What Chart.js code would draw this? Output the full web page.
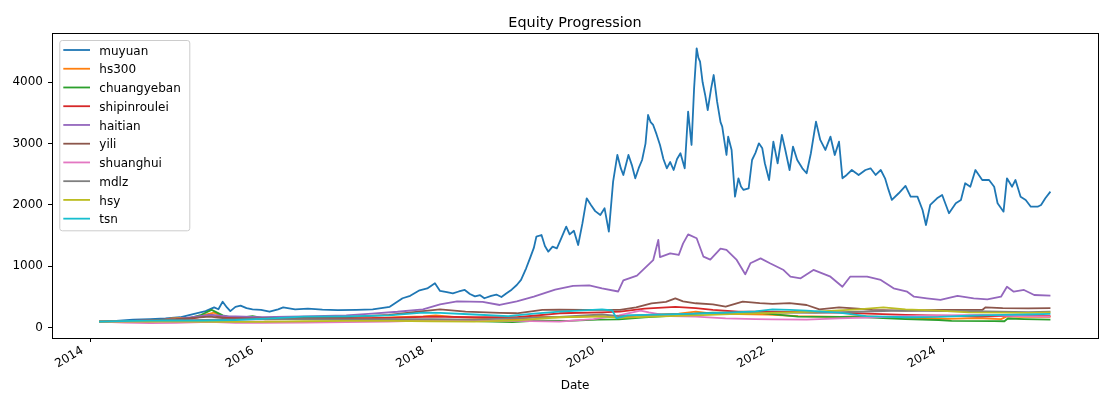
<!DOCTYPE html>
<html>
<head>
<meta charset="utf-8">
<script src="https://cdn.jsdelivr.net/npm/chart.js@4.4.1/dist/chart.umd.min.js"></script>
<style>
html,body{margin:0;padding:0;background:#fff;}
canvas{display:block;}
</style>
</head>
<body>
<canvas id="c" width="1112" height="397"></canvas>
<script>
// ---- data (x = decimal year, y = equity value) ----
const seriesNames = ['muyuan','hs300','chuangyeban','shipinroulei','haitian','yili','shuanghui','mdlz','hsy','tsn'];
const seriesColors = ['#1f77b4','#ff7f0e','#2ca02c','#d62728','#9467bd','#8c564b','#e377c2','#7f7f7f','#bcbd22','#17becf'];
const xTickYears = [2014, 2016, 2018, 2020, 2022, 2024];
const yTickValues = [0, 1000, 2000, 3000, 4000];
const chartTitle = 'Equity Progression';
const xAxisTitle = 'Date';

const muyuan = [
 [2014.10,100],[2014.30,110],[2014.50,130],[2014.70,140],[2014.88,150],[2015.05,170],[2015.24,235],[2015.35,270],
 [2015.45,330],[2015.50,300],[2015.55,424],[2015.60,330],[2015.64,270],[2015.70,340],[2015.76,360],[2015.83,320],
 [2015.90,300],[2016.00,290],[2016.10,260],[2016.20,300],[2016.26,330],[2016.40,300],[2016.55,310],[2016.72,295],
 [2016.90,285],[2017.12,290],[2017.31,300],[2017.51,340],[2017.66,480],[2017.75,520],[2017.86,610],[2017.95,640],
 [2018.04,724],[2018.10,600],[2018.18,580],[2018.25,560],[2018.32,590],[2018.39,615],[2018.45,550],[2018.51,510],
 [2018.57,530],[2018.62,480],[2018.70,520],[2018.76,540],[2018.82,500],[2018.88,560],[2018.94,620],[2019.00,696],
 [2019.05,780],[2019.11,968],[2019.16,1150],[2019.20,1300],[2019.23,1484],[2019.29,1511],[2019.33,1330],[2019.37,1239],
 [2019.42,1320],[2019.47,1294],[2019.52,1450],[2019.58,1646],[2019.62,1520],[2019.67,1580],[2019.72,1348],[2019.77,1700],
 [2019.82,2109],[2019.87,2000],[2019.92,1900],[2019.98,1837],[2020.03,1946],[2020.08,1565],[2020.13,2380],[2020.18,2815],
 [2020.22,2600],[2020.25,2489],[2020.31,2815],[2020.35,2650],[2020.39,2435],[2020.43,2600],[2020.47,2733],[2020.51,3000],
 [2020.54,3467],[2020.57,3350],[2020.60,3304],[2020.64,3150],[2020.68,2978],[2020.72,2750],[2020.76,2598],[2020.80,2700],
 [2020.84,2570],[2020.88,2750],[2020.92,2843],[2020.97,2598],[2021.01,3521],[2021.05,2978],[2021.08,3900],[2021.11,4554],
 [2021.13,4400],[2021.15,4336],[2021.18,4000],[2021.21,3793],[2021.24,3548],[2021.28,3900],[2021.31,4118],[2021.35,3684],
 [2021.39,3350],[2021.41,3276],[2021.44,3000],[2021.46,2815],[2021.48,3113],[2021.52,2897],[2021.56,2135],[2021.60,2435],
 [2021.63,2300],[2021.66,2245],[2021.72,2272],[2021.76,2733],[2021.80,2850],[2021.84,3005],[2021.88,2924],[2021.91,2680],
 [2021.96,2407],[2022.01,3032],[2022.06,2680],[2022.11,3141],[2022.15,2897],[2022.20,2570],[2022.24,2951],[2022.29,2733],
 [2022.35,2598],[2022.40,2517],[2022.45,2843],[2022.51,3358],[2022.56,3060],[2022.62,2897],[2022.68,3113],[2022.73,2815],
 [2022.78,3032],[2022.82,2435],[2022.87,2489],[2022.93,2570],[2023.01,2489],[2023.09,2570],[2023.15,2598],[2023.21,2489],
 [2023.27,2570],[2023.32,2435],[2023.36,2250],[2023.40,2082],[2023.48,2191],[2023.56,2310],[2023.62,2135],[2023.70,2135],
 [2023.76,1918],[2023.80,1674],[2023.85,2000],[2023.93,2109],[2023.99,2163],[2024.07,1865],[2024.15,2028],[2024.21,2082],
 [2024.26,2354],[2024.32,2298],[2024.38,2570],[2024.46,2407],[2024.54,2407],[2024.60,2298],[2024.64,2028],[2024.71,1891],
 [2024.75,2435],[2024.81,2298],[2024.85,2407],[2024.91,2135],[2024.97,2082],[2025.03,1972],[2025.11,1972],[2025.15,2000],
 [2025.20,2109],[2025.26,2217]
];
const hs300 = [
 [2014.10,100],[2014.40,98],[2014.60,100],[2014.80,110],[2014.95,150],[2015.20,165],[2015.40,230],[2015.45,245],
 [2015.55,180],[2015.70,150],[2015.90,165],[2016.05,135],[2016.30,140],[2016.60,148],[2016.90,150],[2017.30,155],
 [2017.60,170],[2017.90,185],[2018.05,200],[2018.30,172],[2018.60,155],[2018.90,140],[2019.00,137],[2019.25,180],
 [2019.45,170],[2019.70,175],[2019.95,188],[2020.20,170],[2020.50,205],[2020.90,230],[2021.10,262],[2021.30,230],
 [2021.60,220],[2021.95,215],[2022.30,190],[2022.80,175],[2023.05,190],[2023.50,160],[2023.80,155],[2024.05,145],
 [2024.40,155],[2024.68,140],[2024.75,185],[2024.90,178],[2025.26,178]
];
const chuangyeban = [
 [2014.10,100],[2014.30,95],[2014.60,100],[2014.90,110],[2015.10,130],[2015.30,210],[2015.42,290],[2015.55,200],
 [2015.70,150],[2015.90,190],[2016.05,150],[2016.40,150],[2016.80,145],[2017.20,135],[2017.60,125],[2017.95,125],
 [2018.30,120],[2018.60,105],[2018.95,90],[2019.25,115],[2019.60,110],[2019.95,130],[2020.20,137],[2020.50,170],
 [2020.90,200],[2021.10,230],[2021.30,246],[2021.55,245],[2021.85,240],[2022.30,180],[2022.80,175],[2023.10,170],
 [2023.56,140],[2023.95,125],[2024.10,112],[2024.60,108],[2024.72,105],[2024.76,150],[2024.95,140],[2025.26,130]
];
const shipinroulei = [
 [2014.10,100],[2014.50,95],[2014.90,110],[2015.20,150],[2015.42,210],[2015.55,170],[2015.80,160],[2016.10,140],
 [2016.50,150],[2017.00,150],[2017.50,160],[2018.00,180],[2018.50,170],[2019.00,170],[2019.50,235],[2020.00,250],
 [2020.21,262],[2020.50,310],[2020.86,338],[2021.10,320],[2021.30,289],[2021.60,262],[2022.00,262],[2022.40,255],
 [2022.78,246],[2023.20,225],[2023.56,208],[2024.00,195],[2024.46,180],[2024.75,195],[2025.26,190]
];
const haitian = [
 [2014.10,100],[2014.50,110],[2015.00,140],[2015.40,210],[2015.60,190],[2016.00,170],[2016.50,185],[2017.00,200],
 [2017.30,230],[2017.60,260],[2017.90,300],[2018.10,380],[2018.30,430],[2018.60,420],[2018.80,370],[2019.00,430],
 [2019.20,505],[2019.45,620],[2019.66,680],[2019.85,690],[2020.00,642],[2020.19,590],[2020.25,770],[2020.41,850],
 [2020.60,1100],[2020.66,1430],[2020.68,1150],[2020.80,1210],[2020.90,1185],[2020.95,1370],[2021.01,1520],[2021.11,1457],
 [2021.19,1157],[2021.27,1110],[2021.39,1290],[2021.46,1267],[2021.58,1104],[2021.68,870],[2021.74,1050],[2021.86,1130],
 [2021.97,1050],[2022.13,940],[2022.21,831],[2022.33,805],[2022.48,941],[2022.68,831],[2022.82,668],[2022.91,831],
 [2023.11,831],[2023.27,778],[2023.42,642],[2023.58,587],[2023.66,505],[2023.81,479],[2023.97,452],[2024.17,517],
 [2024.36,479],[2024.52,462],[2024.68,505],[2024.75,668],[2024.83,587],[2024.95,615],[2025.07,533],[2025.26,522]
];
const yili = [
 [2014.10,100],[2014.50,110],[2015.00,140],[2015.40,180],[2015.60,150],[2016.00,150],[2016.50,160],[2017.00,170],
 [2017.50,210],[2017.90,270],[2018.10,300],[2018.40,261],[2018.80,240],[2019.00,235],[2019.30,290],[2019.50,295],
 [2019.80,290],[2020.21,289],[2020.40,330],[2020.58,398],[2020.75,420],[2020.86,479],[2020.95,430],[2021.10,398],
 [2021.30,380],[2021.45,344],[2021.65,425],[2021.85,400],[2022.00,387],[2022.20,400],[2022.40,370],[2022.55,300],
 [2022.78,332],[2023.00,310],[2023.17,289],[2023.56,278],[2023.95,289],[2024.30,290],[2024.46,289],[2024.50,332],
 [2024.70,320],[2025.00,316],[2025.26,318]
];
const shuanghui = [
 [2014.10,100],[2014.40,85],[2014.70,75],[2015.00,80],[2015.40,95],[2015.70,80],[2016.00,80],[2016.50,85],
 [2017.00,90],[2017.50,100],[2018.00,120],[2018.50,110],[2019.00,110],[2019.50,99],[2019.90,140],[2020.20,200],
 [2020.45,280],[2020.55,250],[2020.80,190],[2021.10,180],[2021.45,153],[2021.80,140],[2022.00,137],[2022.40,130],
 [2022.78,153],[2023.20,170],[2023.56,190],[2024.00,200],[2024.46,208],[2024.75,195],[2025.26,180]
];
const mdlz = [
 [2014.10,100],[2014.50,110],[2015.00,120],[2015.50,130],[2016.00,135],[2016.50,140],[2017.00,135],[2017.50,140],
 [2018.00,140],[2018.50,130],[2019.00,155],[2019.50,175],[2020.00,215],[2020.20,190],[2020.50,210],[2021.00,225],
 [2021.50,240],[2022.00,246],[2022.50,240],[2023.00,260],[2023.50,278],[2024.00,270],[2024.50,265],[2025.00,255],
 [2025.26,262]
];
const hsy = [
 [2014.10,100],[2014.50,100],[2015.00,100],[2015.50,95],[2016.00,95],[2016.50,105],[2017.00,110],[2017.50,110],
 [2018.00,105],[2018.50,100],[2019.00,120],[2019.50,170],[2020.00,185],[2020.20,160],[2020.50,175],[2021.10,200],
 [2021.50,220],[2022.00,240],[2022.50,262],[2023.00,300],[2023.30,332],[2023.56,300],[2023.95,278],[2024.30,250],
 [2024.70,246],[2025.00,240],[2025.26,250]
];
const tsn = [
 [2014.10,100],[2014.50,110],[2014.90,120],[2015.30,115],[2015.70,125],[2016.00,145],[2016.50,180],[2017.00,185],
 [2017.50,200],[2017.90,245],[2018.10,240],[2018.50,215],[2018.90,190],[2019.20,230],[2019.50,262],[2020.00,300],
 [2020.12,280],[2020.17,153],[2020.30,200],[2020.50,208],[2021.00,224],[2021.45,246],[2021.80,265],[2022.00,300],
 [2022.20,290],[2022.40,278],[2022.78,246],[2023.10,190],[2023.56,170],[2023.95,175],[2024.30,195],[2024.70,208],
 [2025.00,215],[2025.26,224]
];
const seriesData = [muyuan, hs300, chuangyeban, shipinroulei, haitian, yili, shuanghui, mdlz, hsy, tsn];

// ---- chart ----
const FONT = '"DejaVu Sans", "Liberation Sans", sans-serif';
Chart.defaults.font.family = FONT;
Chart.defaults.font.size = 12;
Chart.defaults.color = '#000';

const mplDecor = {
  id: 'mplDecor',
  afterDatasetsDraw(chart) {
    const {ctx, chartArea: a} = chart;
    ctx.save();
    // frame (spines)
    ctx.strokeStyle = '#000';
    ctx.lineWidth = 1;
    ctx.strokeRect(a.left + 0.5, a.top + 0.5, a.right - a.left, a.bottom - a.top);
    // title
    ctx.fillStyle = '#000';
    ctx.font = '14.4px ' + FONT;
    ctx.textAlign = 'center';
    ctx.textBaseline = 'alphabetic';
    ctx.fillText(chartTitle, (a.left + a.right) / 2, 26.5);
    // legend
    const lx = a.left + 7.3, ly = a.top + 7, lw = 130, lh = 190.3;
    ctx.beginPath();
    if (ctx.roundRect) ctx.roundRect(lx + 0.5, ly + 0.5, lw, lh, 2.5); else ctx.rect(lx + 0.5, ly + 0.5, lw, lh);
    ctx.fillStyle = 'rgba(255,255,255,0.8)';
    ctx.fill();
    ctx.strokeStyle = '#cccccc';
    ctx.lineWidth = 1;
    ctx.stroke();
    ctx.font = '12px ' + FONT;
    ctx.textAlign = 'left';
    ctx.textBaseline = 'alphabetic';
    chart.data.datasets.forEach((ds, i) => {
      const y = ly + 10 + i * 18.74;
      ctx.beginPath();
      ctx.moveTo(lx + 4, y);
      ctx.lineTo(lx + 30.7, y);
      ctx.strokeStyle = ds.borderColor;
      ctx.lineWidth = 1.8;
      ctx.stroke();
      ctx.fillStyle = '#000';
      ctx.fillText(ds.label, lx + 40, y + 4.6);
    });
    ctx.restore();
  }
};

new Chart(document.getElementById('c'), {
  type: 'line',
  data: {
    datasets: seriesNames.map((name, i) => ({
      label: name,
      data: seriesData[i].map(p => ({x: p[0], y: p[1]})),
      borderColor: seriesColors[i],
      backgroundColor: seriesColors[i],
      borderWidth: 1.8,
      pointRadius: 0,
      pointHoverRadius: 0,
      tension: 0,
      fill: false,
      borderJoinStyle: 'round',
      order: seriesNames.length - 1 - i
    }))
  },
  options: {
    responsive: false,
    animation: false,
    devicePixelRatio: 1,
    layout: {padding: {top: 33, right: 14, left: 0, bottom: 0}},
    plugins: {legend: {display: false}, title: {display: false}, tooltip: {enabled: false}},
    events: [],
    scales: {
      x: {
        type: 'linear',
        min: 2013.548,
        max: 2025.818,
        afterBuildTicks: s => { s.ticks = xTickYears.map(v => ({value: v})); },
        afterFit: s => { s.height = 59; },
        grid: {drawOnChartArea: false, drawTicks: true, tickLength: 4, tickColor: '#000', tickWidth: 1},
        border: {display: false},
        ticks: {
          autoSkip: false, maxRotation: 30, minRotation: 30, padding: 1.5, labelOffset: -8,
          color: '#000', font: {size: 12},
          callback: v => String(v)
        },
        title: {display: true, text: xAxisTitle, color: '#000', font: {size: 12}, padding: {top: 0, bottom: 4.4}}
      },
      y: {
        type: 'linear',
        min: -168,
        max: 4803,
        afterBuildTicks: s => { s.ticks = yTickValues.map(v => ({value: v})); },
        afterFit: s => { s.width = 52; },
        grid: {drawOnChartArea: false, drawTicks: true, tickLength: 4, tickColor: '#000', tickWidth: 1},
        border: {display: false},
        ticks: {padding: 5, color: '#000', font: {size: 12}, callback: v => String(v)}
      }
    }
  },
  plugins: [mplDecor]
});
</script>
</body>
</html>
